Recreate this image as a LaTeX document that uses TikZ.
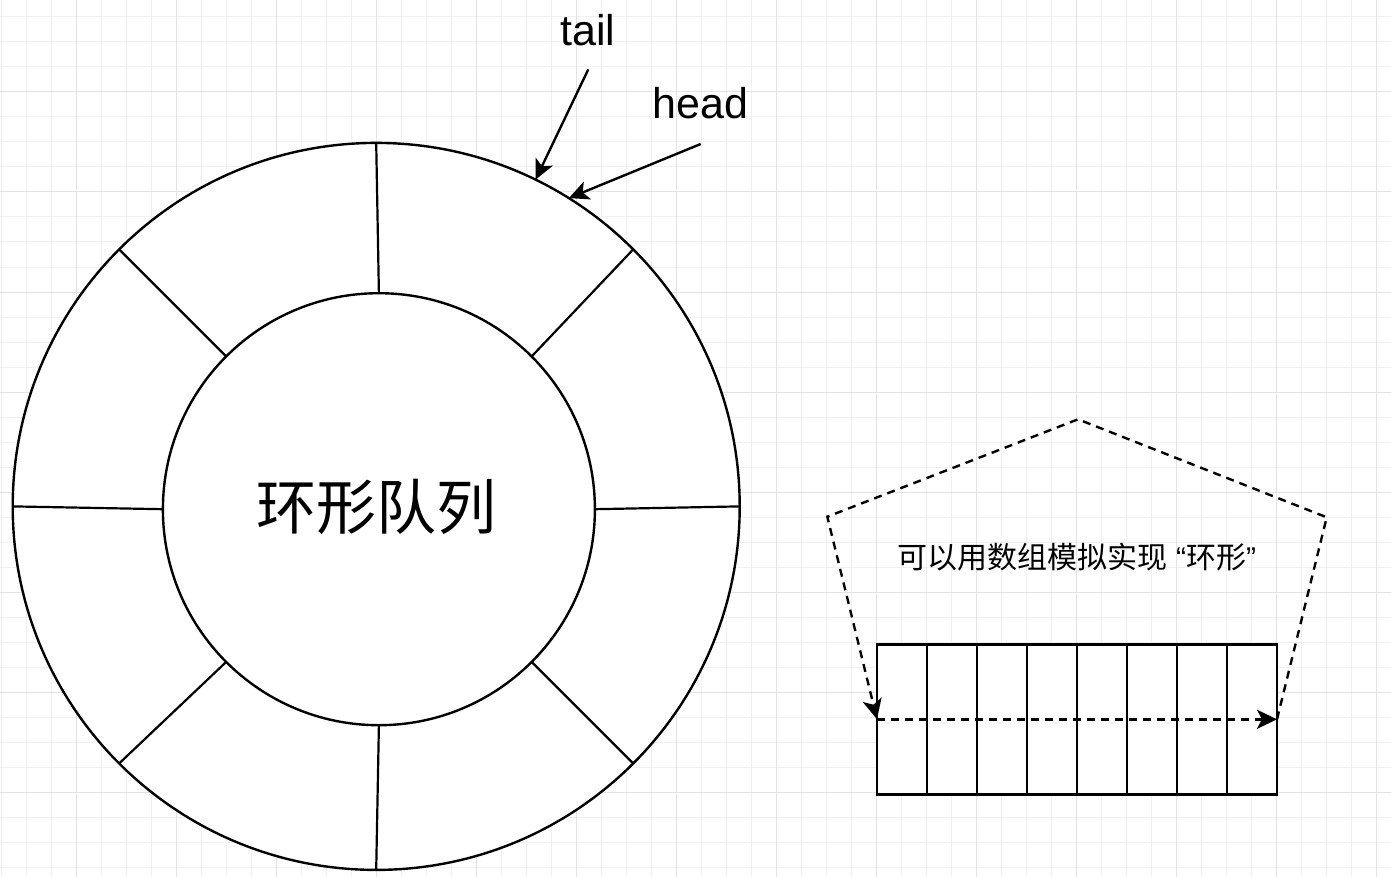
\documentclass[tikz,border=0pt]{standalone}
\usepackage{fontspec}
\setmainfont{Liberation Sans}
\newfontfamily\cjk{Noto Sans CJK SC}
\usetikzlibrary{arrows.meta}
\begin{document}
\begin{tikzpicture}[x=1pt,y=-1pt,
  gridminor/.style={draw=black!6, line width=1pt},
  gridmajor/.style={draw=black!11, line width=1pt},
  ring/.style={circle, draw=black, fill=white, line width=2.4pt, inner sep=0pt, outer sep=0pt},
  divider/.style={draw=black, line width=2.2pt},
  cell/.style={rectangle, draw=black, fill=white, line width=2.4pt, minimum width=50pt, minimum height=150pt, inner sep=0pt, outer sep=0pt},
  tipstyle/.style={-{Stealth[length=20pt,width=19pt,inset=5pt]}},
  pointer/.style={draw=black, line width=2.4pt, tipstyle},
  wrap/.style={draw=black, line width=2.4pt, dash pattern=on 8pt off 6pt, tipstyle},
  lbl/.style={font=\fontsize{43}{43}\selectfont, inner sep=0pt, anchor=base}
]
% background and grid
\fill[white] (0,0) rectangle (1391,877);
\useasboundingbox (0,0) rectangle (1391,877);
\foreach \k in {0,...,55} \draw[gridminor] ({1+25*\k},0) -- ({1+25*\k},877);
\foreach \k in {0,...,34} \draw[gridminor] (0,{17+25*\k}) -- (1391,{17+25*\k});
\foreach \k in {0,...,13} \draw[gridmajor] ({76+100*\k},0) -- ({76+100*\k},877);
\foreach \k in {0,...,7} \draw[gridmajor] (0,{92+100*\k}) -- (1391,{92+100*\k});

% ring
\node[ring, minimum size=727pt] (outer) at (376.2,506.4) {};
\node[ring, minimum size=432pt] (inner) at (378.9,509.2) {};
\foreach \a in {0,45,...,315} \draw[divider] (outer.\a) -- (inner.\a);
\node[font=\cjk\fontsize{60}{60}\selectfont, inner sep=0pt] (title) at (376,506.5) {环形队列};

% pointers
\node[lbl] (tail) at (588,46) {tail};
\node[lbl] (head) at (700.5,118.3) {head};
\coordinate (tailstart) at (588.3,69.3);
\coordinate (headstart) at (700.7,144);
\draw[pointer] (tailstart) -- (outer.64);
\draw[pointer] (headstart) -- (outer.58.3);

% array
\foreach \i in {1,...,8} \node[cell] (c\i) at ({852+50*\i},719.3) {};
\coordinate (pr) at (1326.7,517.3);
\coordinate (pt) at (1078,419.3);
\coordinate (pl) at (827.3,516.7);
\draw[wrap] (c8.east) -- (pr) -- (pt) -- (pl) -- (c1.west);
\draw[wrap] (c1.west) -- (c8.east);
\node[font=\fontsize{30}{30}\selectfont, inner sep=0pt] (note) at (1077,557) {{\cjk 可以用数组模拟实现} “{\cjk 环形}”};
\end{tikzpicture}
\end{document}
